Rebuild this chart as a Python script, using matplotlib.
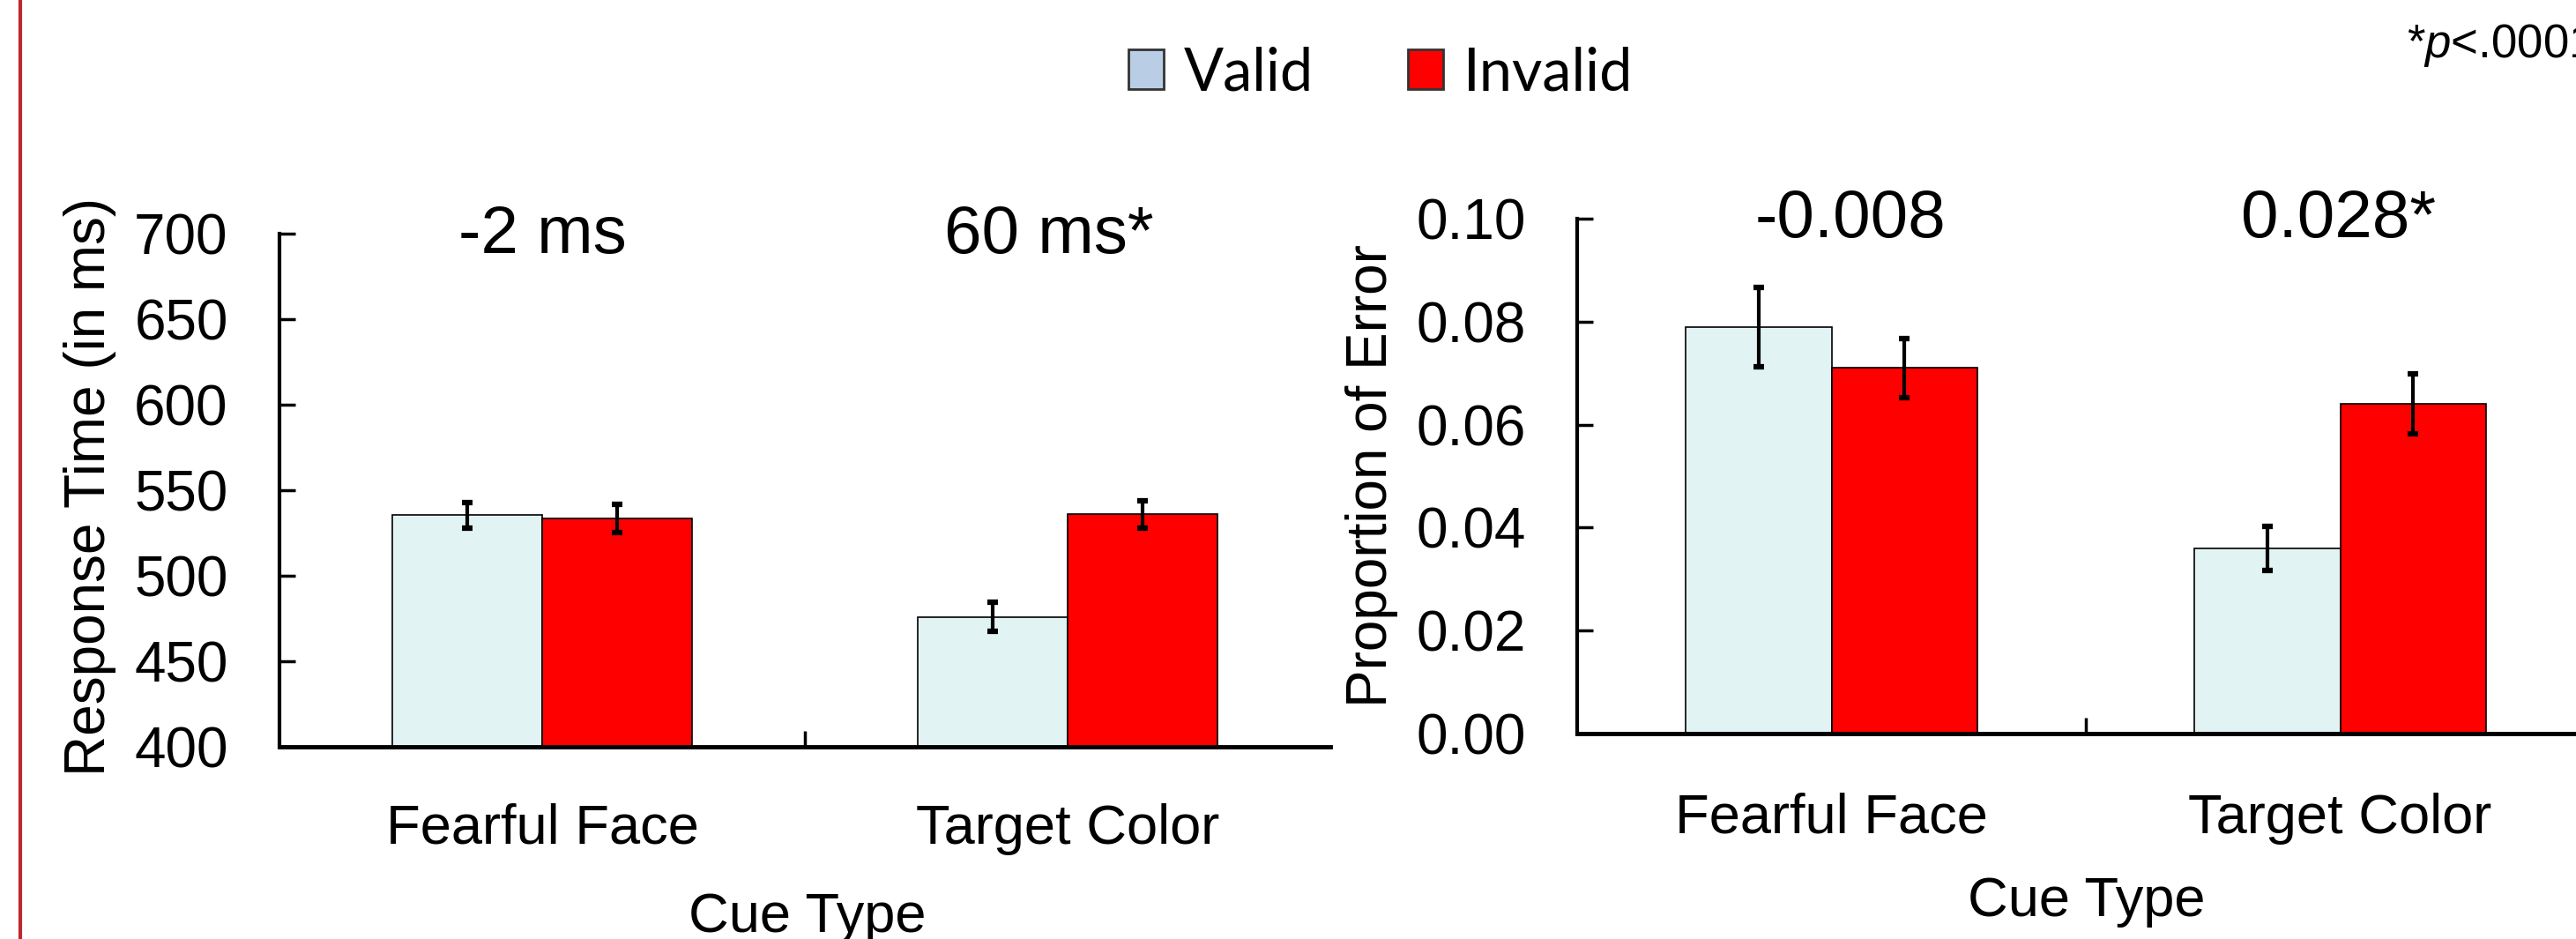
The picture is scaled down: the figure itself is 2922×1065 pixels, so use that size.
import matplotlib
matplotlib.use("Agg")
import matplotlib.pyplot as plt
import matplotlib.transforms as mtransforms
from matplotlib.patches import Patch
from matplotlib.lines import Line2D

plt.rcParams['font.family'] = ['Liberation Sans', 'DejaVu Sans']
plt.rcParams['mathtext.fontset'] = 'custom'
plt.rcParams['mathtext.rm'] = 'Liberation Sans'
plt.rcParams['mathtext.it'] = 'Liberation Sans:italic'

# data
cue_types = ['Fearful Face', 'Target Color']
series_names = ['Valid', 'Invalid']

rt_valid = [535.5, 476.0]
rt_invalid = [533.5, 536.0]
rt_valid_err = [7.5, 8.5]
rt_invalid_err = [8.0, 8.0]
rt_ticks = [400, 450, 500, 550, 600, 650, 700]
rt_diff_labels = ['-2 ms', '60 ms*']

pe_valid = [0.079, 0.036]
pe_invalid = [0.071, 0.064]
pe_valid_err = [0.0077, 0.0043]
pe_invalid_err = [0.0057, 0.0058]
pe_ticks = [0.00, 0.02, 0.04, 0.06, 0.08, 0.10]
pe_diff_labels = ['-0.008', '0.028*']

VALID_COLOR = '#E2F3F3'
INVALID_COLOR = '#FF0000'
LEGEND_VALID = '#B9CDE5'

W, H = 2922, 1065
fig = plt.figure(figsize=(W / 100, H / 100), dpi=100)


def px_axes(left, right, top, bottom):
    return fig.add_axes([left / W, 1 - bottom / H, (right - left) / W, (bottom - top) / H])


def draw_panel(ax, valid, invalid, valid_err, invalid_err, ticks, tick_fmt,
               diff_labels, diff_x, diff_y, cat_y):
    x = list(range(len(cue_types)))
    width = 0.286
    xv = [i - width / 2 for i in x]
    xi = [i + width / 2 for i in x]
    ax.bar(xv, valid, width, color=VALID_COLOR, edgecolor='black', linewidth=1.2, zorder=2)
    ax.bar(xi, invalid, width, color=INVALID_COLOR, edgecolor='black', linewidth=1.2, zorder=2)
    ax.errorbar(xv, valid, yerr=valid_err, fmt='none', ecolor='black',
                elinewidth=3, capsize=4, capthick=4.5, zorder=3)
    ax.errorbar(xi, invalid, yerr=invalid_err, fmt='none', ecolor='black',
                elinewidth=3, capsize=4, capthick=4.5, zorder=3)

    ax.set_xlim(-0.5, len(x) - 0.5)
    ax.set_ylim(ticks[0], ticks[-1])
    ax.set_yticks(ticks)
    ax.set_yticklabels([tick_fmt.format(t) for t in ticks])
    ax.set_xticks([0.5])
    ax.set_xticklabels([''])

    for side in ['top', 'right']:
        ax.spines[side].set_visible(False)
    ax.spines['left'].set_linewidth(3)
    ax.spines['bottom'].set_linewidth(3.5)
    ax.tick_params(axis='y', direction='in', length=13, width=2.5, labelsize=46, pad=42)
    ax.tick_params(axis='x', direction='in', length=13, width=2.5)

    trans = mtransforms.blended_transform_factory(ax.transData, ax.transAxes)
    for i, name in enumerate(cue_types):
        ax.text(i, cat_y, name, transform=trans, ha='center', va='center', fontsize=45.5)
    for dx, label in zip(diff_x, diff_labels):
        ax.text(dx, diff_y, label, transform=trans, ha='center', va='center', fontsize=55)


ax1 = px_axes(317, 1509, 265, 847)
draw_panel(ax1, rt_valid, rt_invalid, rt_valid_err, rt_invalid_err, rt_ticks, '{:.0f}',
           rt_diff_labels, [0.0, 0.965], 0.995, -0.16)

ax2 = px_axes(1789, 2943, 248, 832)
draw_panel(ax2, pe_valid, pe_invalid, pe_valid_err, pe_invalid_err, pe_ticks, '{:.2f}',
           pe_diff_labels, [0.037, 0.996], 0.997, -0.165)

# axis titles
fig.text(102 / W, 1 - 552 / H, 'Response Time (in ms)', rotation=90,
         ha='center', va='center', fontsize=46)
fig.text(1556 / W, 1 - 540 / H, 'Proportion of Error', rotation=90,
         ha='center', va='center', fontsize=46)
fig.text(916 / W, 1 - 1040 / H, 'Cue Type', ha='center', va='center', fontsize=45.5)
fig.text(2367 / W, 1 - 1023 / H, 'Cue Type', ha='center', va='center', fontsize=45.5)

fig.text(2730 / W, 1 - 52 / H, r'*$\mathit{p}$<.0001', ha='left', va='center', fontsize=38)

handles = [Patch(facecolor=LEGEND_VALID, edgecolor='#333333', linewidth=2),
           Patch(facecolor=INVALID_COLOR, edgecolor='#333333', linewidth=2)]
fig.legend(handles, series_names, loc='center', bbox_to_anchor=(0.536, 0.922), ncol=2,
           frameon=False, prop={'family': 'Lato', 'size': 48}, handlelength=0.6,
           handleheight=0.65, handletextpad=0.35, columnspacing=1.6)

# red page margin line on the left
fig.add_artist(Line2D([23 / W, 23 / W], [0, 1], color='#C0262D', linewidth=3,
                      transform=fig.transFigure))

fig.savefig('out.png', dpi=100)
